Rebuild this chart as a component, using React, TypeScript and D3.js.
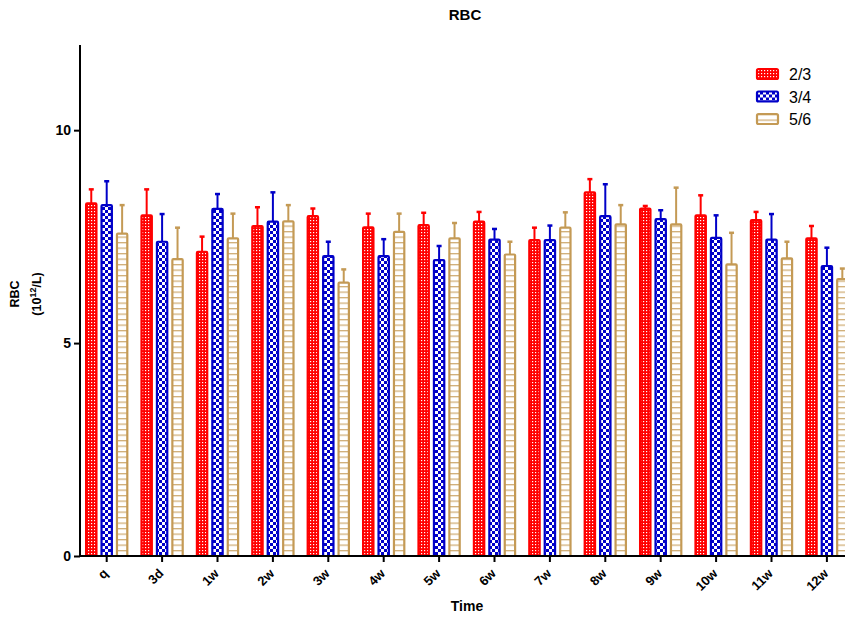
import React, { useRef, useEffect } from 'react';
import * as d3 from 'd3';

const categories = ['q', '3d', '1w', '2w', '3w', '4w', '5w', '6w', '7w', '8w', '9w', '10w', '11w', '12w'];
const seriesNames = ['2/3', '3/4', '5/6'];

const means23 = [8.28, 8.0, 7.14, 7.75, 7.98, 7.72, 7.77, 7.85, 7.42, 8.54, 8.16, 8.0, 7.89, 7.46];
const upper23 = [8.61, 8.61, 7.5, 8.19, 8.16, 8.04, 8.06, 8.08, 7.71, 8.85, 8.22, 8.47, 8.08, 7.75];
const means34 = [8.24, 7.38, 8.15, 7.85, 7.04, 7.04, 6.95, 7.43, 7.42, 7.98, 7.91, 7.47, 7.43, 6.81];
const upper34 = [8.8, 8.03, 8.5, 8.54, 7.38, 7.44, 7.28, 7.68, 7.76, 8.73, 8.12, 8.0, 8.03, 7.24];
const means56 = [7.57, 6.97, 7.46, 7.86, 6.42, 7.61, 7.46, 7.08, 7.71, 7.79, 7.79, 6.85, 6.99, 6.5];
const upper56 = [8.24, 7.71, 8.04, 8.24, 6.73, 8.04, 7.82, 7.38, 8.07, 8.24, 8.65, 7.59, 7.38, 6.75];

const yTicks = [0, 5, 10];

const colors = ['#ff0000', '#0000c8', '#c49a55'];
const patternIds = ['pat-red', 'pat-blue', 'pat-tan'];

const W = 845;
const H = 620;

const App = () => {
  const svgRef = useRef<SVGSVGElement>(null);

  useEffect(() => {
    const svg = d3.select(svgRef.current);
    svg.selectAll('*').remove();

    const font = 'Liberation Sans, Arial, sans-serif';
    const x0 = d3.scaleBand().domain(categories).range([79, 79 + 14 * 55.4]).paddingInner(0.22).paddingOuter(0.11);
    const x1 = d3.scaleBand().domain(seriesNames).range([0, x0.bandwidth()]).paddingInner(0.2);
    const y = d3.scaleLinear().domain([0, 12]).range([556, 45]);

    // patterns
    const defs = svg.append('defs');
    const pr = defs.append('pattern').attr('id', patternIds[0]).attr('patternUnits', 'userSpaceOnUse')
      .attr('width', 3).attr('height', 3);
    pr.append('rect').attr('width', 3).attr('height', 3).attr('fill', colors[0]);
    pr.append('rect').attr('x', 1).attr('y', 1).attr('width', 1.2).attr('height', 1.2).attr('fill', '#fff');

    const pb = defs.append('pattern').attr('id', patternIds[1]).attr('patternUnits', 'userSpaceOnUse')
      .attr('width', 6).attr('height', 6);
    pb.append('rect').attr('width', 6).attr('height', 6).attr('fill', colors[1]);
    pb.append('rect').attr('x', 0).attr('y', 0).attr('width', 3).attr('height', 3).attr('fill', '#fff');
    pb.append('rect').attr('x', 3).attr('y', 3).attr('width', 3).attr('height', 3).attr('fill', '#fff');

    const pt = defs.append('pattern').attr('id', patternIds[2]).attr('patternUnits', 'userSpaceOnUse')
      .attr('width', 6).attr('height', 5.5);
    pt.append('rect').attr('width', 6).attr('height', 5.5).attr('fill', '#fff');
    pt.append('rect').attr('y', 0).attr('width', 6).attr('height', 1.3).attr('fill', colors[2]).attr('opacity', 0.8);

    const series = [
      { name: seriesNames[0], means: means23, upper: upper23 },
      { name: seriesNames[1], means: means34, upper: upper34 },
      { name: seriesNames[2], means: means56, upper: upper56 },
    ];

    const plot = svg.append('g');

    series.forEach((s, si) => {
      const g = plot.append('g');
      categories.forEach((c, ci) => {
        const bx = (x0(c) as number) + (x1(s.name) as number);
        const bw = x1.bandwidth();
        const cx = bx + bw / 2;
        // error bar (upper only)
        g.append('line')
          .attr('x1', cx).attr('x2', cx)
          .attr('y1', y(s.means[ci])).attr('y2', y(s.upper[ci]))
          .attr('stroke', colors[si]).attr('stroke-width', 2);
        g.append('line')
          .attr('x1', cx - 2.5).attr('x2', cx + 2.5)
          .attr('y1', y(s.upper[ci])).attr('y2', y(s.upper[ci]))
          .attr('stroke', colors[si]).attr('stroke-width', 2.5);
        // bar
        g.append('rect')
          .attr('x', bx + 1).attr('y', y(s.means[ci]))
          .attr('width', bw - 2).attr('height', y(0) - y(s.means[ci]))
          .attr('rx', 1)
          .attr('fill', `url(#${patternIds[si]})`)
          .attr('stroke', colors[si]).attr('stroke-width', 2.2);
      });
    });

    // y axis
    const yAxis = svg.append('g')
      .attr('transform', 'translate(80,0)')
      .call(d3.axisLeft(y).tickValues(yTicks).tickSize(6).tickPadding(3))
      .call(g => g.select('.domain').attr('stroke-width', 2).attr('d', `M0,${y(0)}V${y(12)}`));
    yAxis.selectAll('.tick line').attr('stroke-width', 2);
    yAxis.selectAll('text').attr('font-family', font).attr('font-size', 14).attr('font-weight', 'bold').attr('fill', '#000');

    // x axis
    const xAxis = svg.append('g')
      .attr('transform', `translate(0,${y(0)})`)
      .call(d3.axisBottom(x0).tickSize(6))
      .call(g => g.select('.domain').attr('stroke-width', 2).attr('d', `M79,0H${W}`));
    xAxis.selectAll('.tick line').attr('stroke-width', 2);
    xAxis.selectAll('text')
      .attr('font-family', font).attr('font-size', 13).attr('font-weight', 'bold').attr('fill', '#000')
      .attr('text-anchor', 'end')
      .attr('x', 0).attr('y', 0)
      .attr('dy', '0.35em')
      .attr('transform', 'translate(-1,15) rotate(-45)');

    // title
    svg.append('text')
      .attr('x', 465).attr('y', 20)
      .attr('text-anchor', 'middle')
      .attr('font-family', font).attr('font-size', 15).attr('font-weight', 'bold')
      .text('RBC');

    // x label
    svg.append('text')
      .attr('x', 467).attr('y', 611)
      .attr('text-anchor', 'middle')
      .attr('font-family', font).attr('font-size', 14).attr('font-weight', 'bold')
      .text('Time');

    // y label
    const yl = svg.append('text')
      .attr('transform', 'translate(19,294) rotate(-90)')
      .attr('text-anchor', 'middle')
      .attr('font-family', font).attr('font-size', 12.5).attr('font-weight', 'bold');
    yl.append('tspan').attr('x', 0).attr('dy', 0).text('RBC');
    const t2 = yl.append('tspan').attr('x', 0).attr('dy', 22);
    t2.append('tspan').text('(10');
    t2.append('tspan').attr('dy', -5).attr('font-size', 9).text('12');
    t2.append('tspan').attr('dy', 5).text('/L)');

    // legend
    const legend = svg.append('g').attr('transform', 'translate(757,69)');
    seriesNames.forEach((n, i) => {
      const lg = legend.append('g').attr('transform', `translate(0,${i * 22.5})`);
      lg.append('rect')
        .attr('x', 0).attr('y', 0).attr('width', 21).attr('height', 10).attr('rx', 1.5)
        .attr('fill', `url(#${patternIds[i]})`)
        .attr('stroke', colors[i]).attr('stroke-width', 2.2);
      lg.append('text')
        .attr('x', 32).attr('y', 11)
        .attr('font-family', font).attr('font-size', 16)
        .text(n);
    });
  }, []);

  return <svg ref={svgRef} width={W} height={H} style={{ position: 'absolute', left: 0, top: 0, background: '#fff' }} />;
};

export default App;
